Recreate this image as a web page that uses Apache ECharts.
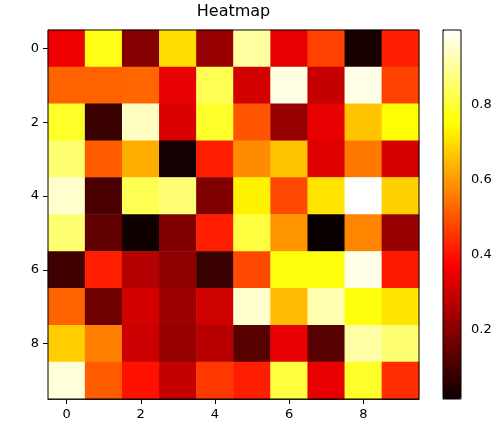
<!DOCTYPE html>
<html><head><meta charset="utf-8">
<script src="https://cdn.jsdelivr.net/npm/echarts@6/dist/echarts.min.js"></script>
<style>html,body{margin:0;padding:0;background:#fff}#c{width:496px;height:429px}</style>
</head><body><div id="c"></div>
<script>
const xCats = ['0','1','2','3','4','5','6','7','8','9'];
const yCats = ['0','1','2','3','4','5','6','7','8','9'];
const row0 = [0.35, 0.77, 0.196, 0.70, 0.22, 0.905, 0.34, 0.47, 0.035, 0.42];
const row1 = [0.52, 0.52, 0.525, 0.34, 0.83, 0.31, 0.97, 0.29, 0.975, 0.47];
const row2 = [0.79, 0.084, 0.94, 0.32, 0.79, 0.50, 0.22, 0.34, 0.66, 0.75];
const row3 = [0.86, 0.51, 0.63, 0.03, 0.42, 0.58, 0.66, 0.33, 0.55, 0.315];
const row4 = [0.95, 0.11, 0.83, 0.865, 0.188, 0.73, 0.48, 0.71, 0.998, 0.68];
const row5 = [0.86, 0.143, 0.025, 0.19, 0.42, 0.81, 0.595, 0.016, 0.57, 0.225];
const row6 = [0.096, 0.42, 0.263, 0.21, 0.084, 0.48, 0.76, 0.76, 0.975, 0.41];
const row7 = [0.52, 0.163, 0.31, 0.23, 0.303, 0.95, 0.65, 0.92, 0.76, 0.71];
const row8 = [0.675, 0.56, 0.30, 0.22, 0.27, 0.128, 0.342, 0.128, 0.91, 0.86];
const row9 = [0.96, 0.51, 0.40, 0.29, 0.456, 0.42, 0.81, 0.34, 0.79, 0.44];
const rows = [row0, row1, row2, row3, row4, row5, row6, row7, row8, row9];
const vMin = 0.016, vMax = 0.998;
const cbTicks = [0.2, 0.4, 0.6, 0.8];

// matplotlib 'hot' colormap as a colour scale
function hot(t) {
  const lerp = (t, pts) => {
    for (let i = 1; i < pts.length; i++) {
      if (t <= pts[i][0]) {
        const [x0, y0] = pts[i - 1], [x1, y1] = pts[i];
        return y0 + (y1 - y0) * (t - x0) / (x1 - x0);
      }
    }
    return pts[pts.length - 1][1];
  };
  const r = lerp(t, [[0, 0.0416], [0.365079, 1], [1, 1]]);
  const g = lerp(t, [[0, 0], [0.365079, 0], [0.746032, 1], [1, 1]]);
  const b = lerp(t, [[0, 0], [0.746032, 0], [1, 1]]);
  const h = v => Math.round(Math.max(0, Math.min(1, v)) * 255);
  return `rgb(${h(r)},${h(g)},${h(b)})`;
}
const stops = [];
for (let k = 0; k <= 60; k++) stops.push(hot(k / 60));

const data = [];
rows.forEach((r, yi) => r.forEach((v, xi) => data.push([xi, yi, v])));

const font = 'DejaVu Sans';
const chart = echarts.init(document.getElementById('c'), null, {renderer: 'canvas'});
chart.setOption({
  animation: false,
  backgroundColor: '#fff',
  textStyle: {fontFamily: font},
  title: {
    text: 'Heatmap', left: 233.5, top: 4, textAlign: 'center', padding: 0,
    textStyle: {fontFamily: font, fontSize: 16, fontWeight: 'normal', color: '#000'}
  },
  grid: [
    {left: 48, right: 77, top: 30, bottom: 30, show: true, z: 5,
     backgroundColor: 'transparent', borderColor: '#000', borderWidth: 1},
    {left: 443, top: 30, width: 18, height: 369, show: true, z: 10,
     backgroundColor: 'transparent', borderColor: '#000', borderWidth: 1}
  ],
  xAxis: [
    {type: 'category', data: xCats, gridIndex: 0, position: 'bottom',
     axisLine: {show: true, lineStyle: {color: '#000', width: 1}},
     axisTick: {show: true, alignWithLabel: true, interval: 1, length: 5, lineStyle: {color: '#000'}},
     axisLabel: {interval: 1, margin: 9, fontSize: 13, color: '#000', fontFamily: font},
     splitLine: {show: false}},
    {type: 'value', gridIndex: 1, show: false, min: 0, max: 1}
  ],
  yAxis: [
    {type: 'category', data: yCats, gridIndex: 0, inverse: true,
     axisLine: {show: true, lineStyle: {color: '#000', width: 1}},
     axisTick: {show: true, alignWithLabel: true, interval: 1, length: 5, lineStyle: {color: '#000'}},
     axisLabel: {interval: 1, margin: 9, fontSize: 13, color: '#000', fontFamily: font},
     splitLine: {show: false}},
    {type: 'value', gridIndex: 1, position: 'right', min: vMin, max: vMax,
     axisLine: {show: true, lineStyle: {color: '#000', width: 1}},
     axisTick: {show: true, length: 5, customValues: cbTicks, lineStyle: {color: '#000'}},
     axisLabel: {margin: 10, fontSize: 13, color: '#000', fontFamily: font,
                 customValues: cbTicks, formatter: v => v.toFixed(1)},
     splitLine: {show: false}}
  ],
  visualMap: {
    type: 'continuous', min: vMin, max: vMax, dimension: 2, seriesIndex: 0,
    calculable: false, hoverLink: false, orient: 'vertical',
    left: 443, top: 30, itemWidth: 18, itemHeight: 369, padding: 0,
    text: null, showLabel: false,
    inRange: {color: stops}
  },
  series: [{
    type: 'heatmap', xAxisIndex: 0, yAxisIndex: 0, data: data,
    itemStyle: {borderWidth: 0},
    emphasis: {disabled: true}
  }]
});
</script></body></html>
